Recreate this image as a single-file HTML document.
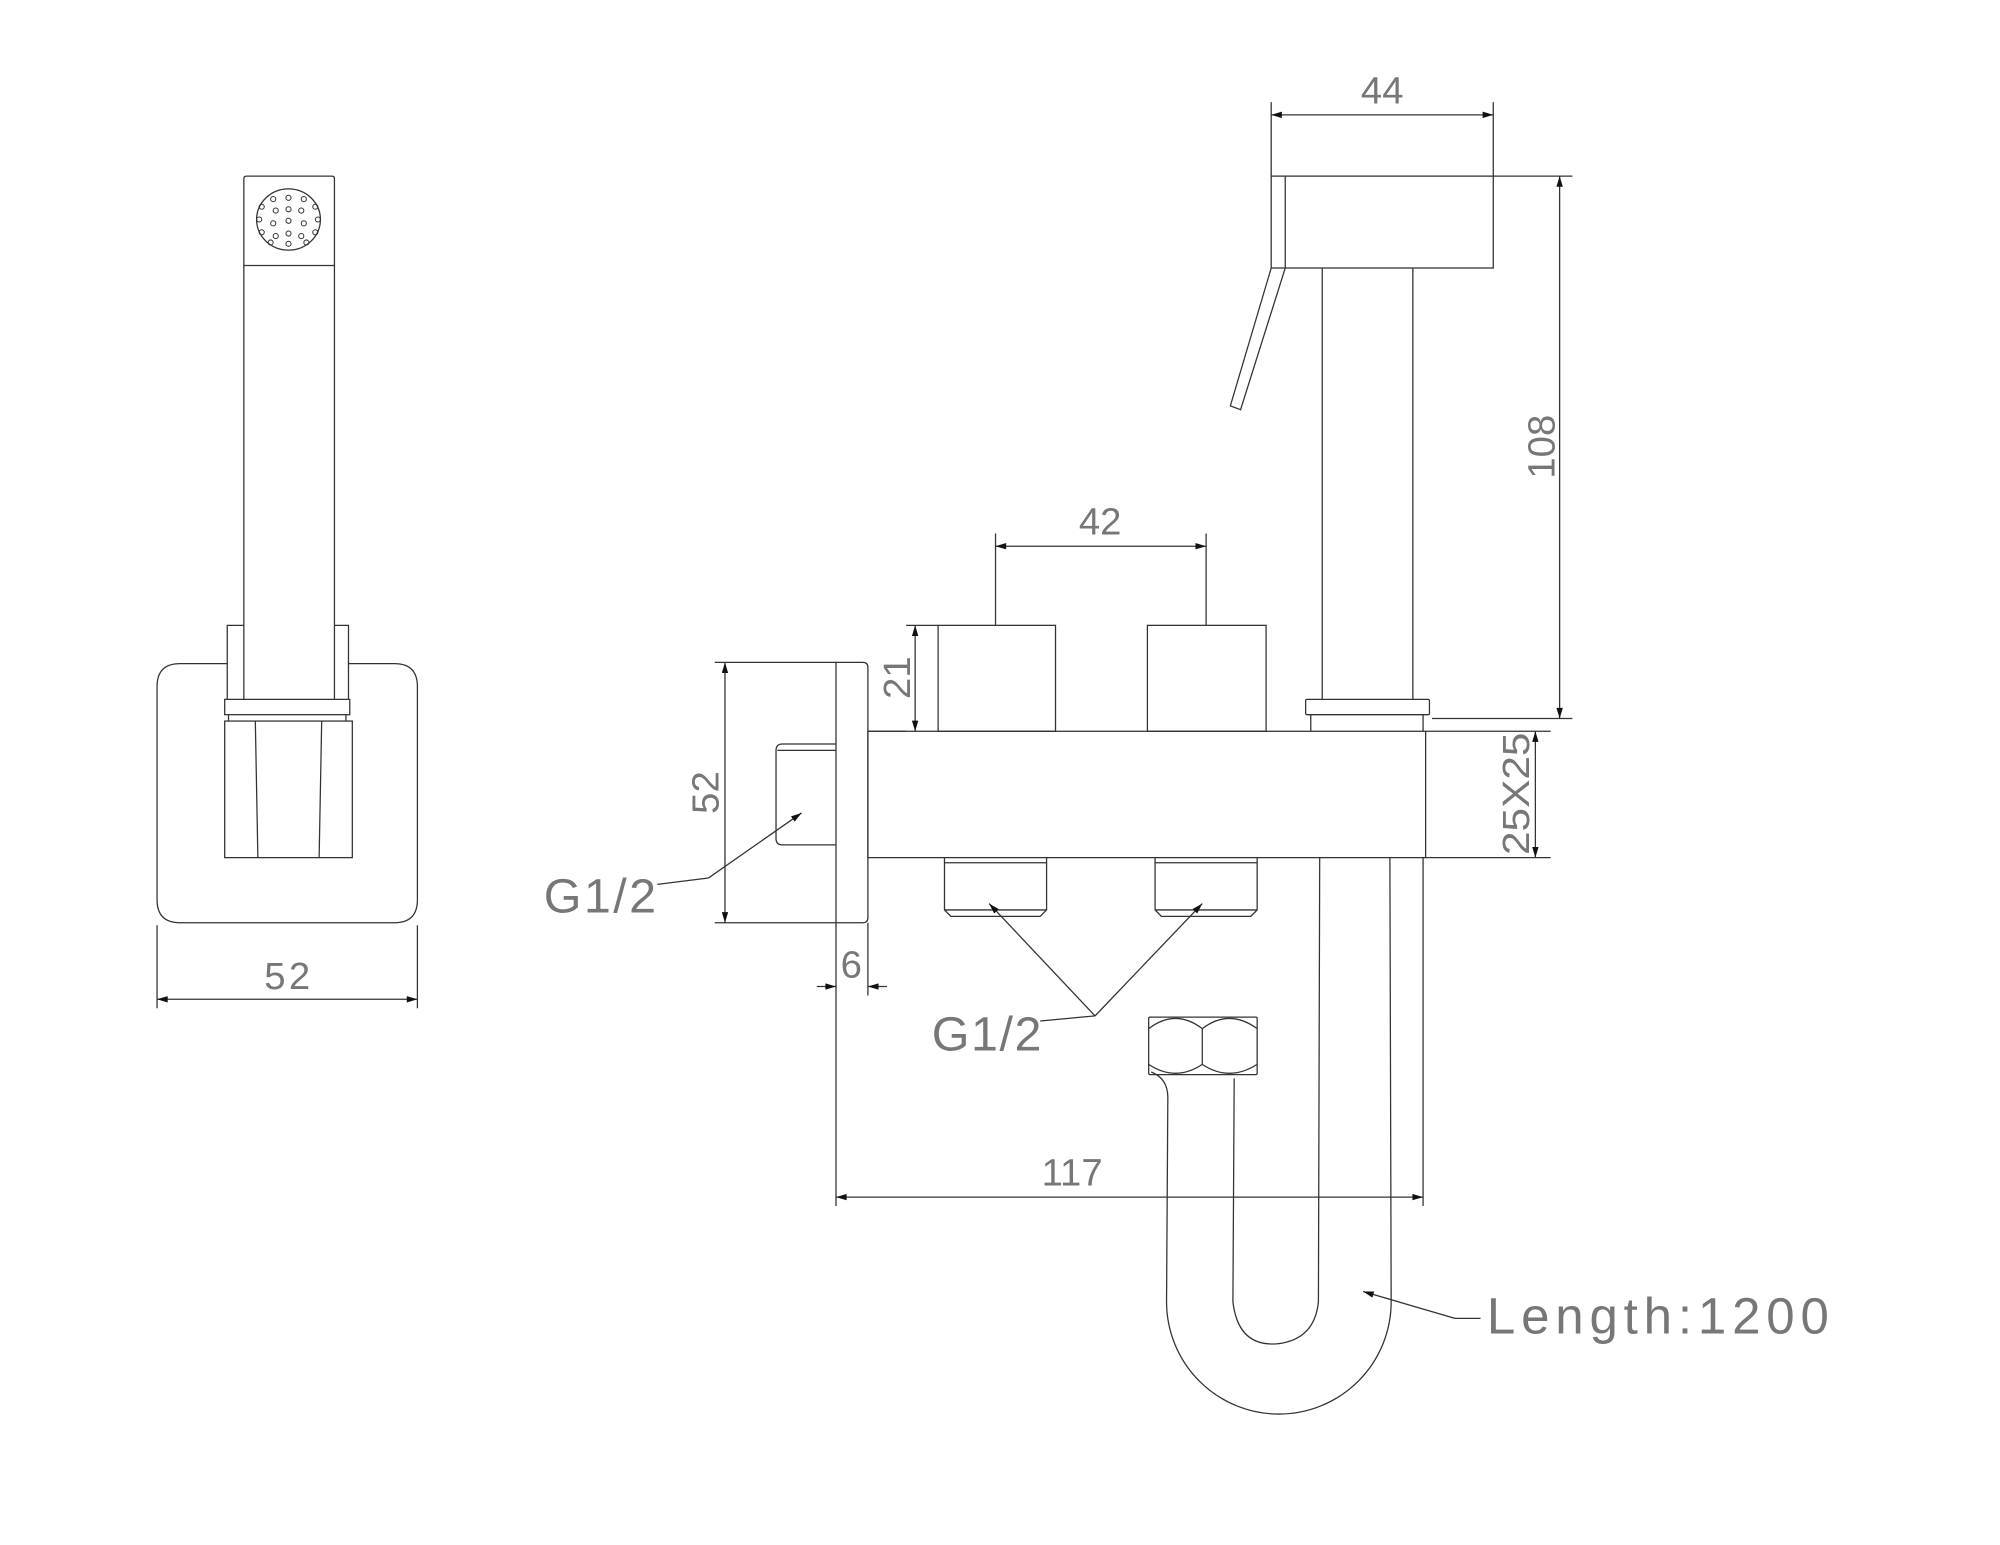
<!DOCTYPE html>
<html><head><style>html,body{margin:0;padding:0;background:#fff}svg{display:block}</style></head>
<body>
<svg width="2000" height="1545" viewBox="0 0 1567 1210.6" xmlns="http://www.w3.org/2000/svg">
<defs>
<marker id="a" viewBox="0 0 10 6" refX="10" refY="3" markerWidth="12" markerHeight="5" orient="auto-start-reverse" markerUnits="userSpaceOnUse"><path d="M0,0L10,3L0,6z" fill="#111"/></marker>
</defs>
<g fill="none" stroke="#333" stroke-width="1">
<!-- LEFT VIEW -->
<path d="M191,208 V140 Q191,138 193,138 H260 Q262,138 262,140 V208 Z"/>
<ellipse cx="226" cy="172" rx="25" ry="24"/>
<g stroke-width="0.8">
<circle cx="214" cy="156" r="2"/><circle cx="226" cy="155" r="2"/><circle cx="238" cy="156" r="2"/>
<circle cx="205" cy="162" r="2"/><circle cx="216" cy="165" r="2"/><circle cx="226" cy="164" r="2"/><circle cx="236" cy="165" r="2"/><circle cx="247" cy="162" r="2"/>
<circle cx="203" cy="172" r="2"/><circle cx="214" cy="175" r="2"/><circle cx="226" cy="173" r="2"/><circle cx="238" cy="175" r="2"/><circle cx="249" cy="172" r="2"/>
<circle cx="205" cy="182" r="2"/><circle cx="216" cy="185" r="2"/><circle cx="226" cy="183" r="2"/><circle cx="236" cy="185" r="2"/><circle cx="247" cy="182" r="2"/>
<circle cx="212" cy="190" r="2"/><circle cx="226" cy="191" r="2"/><circle cx="240" cy="190" r="2"/>
</g>
<path d="M191,208 V548 M262,208 V548"/>
<path d="M191,490 H178 V548 M262,490 H273 V548"/>
<rect x="176" y="548" width="98" height="12"/>
<path d="M179,560 V565 M271,560 V565"/>
<rect x="176" y="565" width="100" height="107"/>
<path d="M200,565 L202,672 M252,565 L250,672"/>
<path d="M178,520 H141 Q123,520 123,538 V705 Q123,723 141,723 H309 Q327,723 327,705 V538 Q327,520 309,520 H273"/>
<path d="M123,725 V790 M327,725 V790"/>
<line x1="123" y1="783" x2="327" y2="783" marker-start="url(#a)" marker-end="url(#a)"/>

<!-- RIGHT VIEW -->
<path d="M655,519 H676 Q680,519 680,523 V719 Q680,723 676,723 H655 Z"/>
<path d="M655,583 H613 Q608,583 608,588 V657 Q608,662 613,662 H655 M609,588 H655"/>
<rect x="680" y="573" width="437" height="99"/>
<rect x="735" y="490" width="92" height="83"/>
<rect x="899" y="490" width="93" height="83"/>
<path d="M740,672 V676 H820 V672 M740,676 V713 L745,718 H815 L820,713 V676 M740,713 H820"/>
<path d="M905,672 V676 H985 V672 M905,676 V713 L910,718 H980 L985,713 V676 M905,713 H985"/>
<!-- head -->
<rect x="996" y="138" width="174" height="72"/>
<path d="M1007,138 V210"/>
<path d="M996,210 L964,318 L972,321 L1007,210"/>
<path d="M1036,210 V548 M1107,210 V548"/>
<rect x="1023" y="548" width="97" height="12" rx="1"/>
<path d="M1027,560 V573 M1115,560 V573"/>
<!-- hose -->
<path d="M902,840 Q915,845 915,860 L914,1020 A88,88 0 0 0 1090,1020 L1089,672"/>
<path d="M967,845 L966,1020 Q970,1055 1000,1053 Q1030,1050 1033,1020 L1034,672"/>
<rect x="900" y="797" width="85" height="45" rx="1"/>
<path d="M900,806 Q921,790 942,806 Q963,790 985,806 M900,834 Q921,848 942,834 Q963,848 985,834 M942,806 V834"/>
<!-- dims -->
<path d="M996,80 V138 M1170,80 V138"/>
<line x1="996" y1="90" x2="1170" y2="90" marker-start="url(#a)" marker-end="url(#a)"/>
<path d="M1170,138 H1232 M1122,563 H1232"/>
<line x1="1222" y1="138" x2="1222" y2="563" marker-start="url(#a)" marker-end="url(#a)"/>
<path d="M1117,573 H1215 M1117,672 H1215"/>
<line x1="1203" y1="573" x2="1203" y2="672" marker-start="url(#a)" marker-end="url(#a)"/>
<path d="M780,418 V490 M945,418 V490"/>
<line x1="780" y1="428" x2="945" y2="428" marker-start="url(#a)" marker-end="url(#a)"/>
<path d="M710,490 H735 M710,573 H680"/>
<line x1="717" y1="490" x2="717" y2="573" marker-start="url(#a)" marker-end="url(#a)"/>
<path d="M560,519 H655 M560,723 H655"/>
<line x1="568" y1="519" x2="568" y2="723" marker-start="url(#a)" marker-end="url(#a)"/>
<path d="M655,723 V945 M680,723 V780 M1115,672 V945"/>
<line x1="640" y1="773" x2="655" y2="773" marker-end="url(#a)"/>
<line x1="695" y1="773" x2="680" y2="773" marker-end="url(#a)"/>
<line x1="655" y1="938" x2="1115" y2="938" marker-start="url(#a)" marker-end="url(#a)"/>
<!-- leaders -->
<path d="M515,693 L555,688"/>
<line x1="555" y1="688" x2="628" y2="637" marker-end="url(#a)"/>
<path d="M815,800 L858,796"/>
<line x1="858" y1="796" x2="775" y2="708" marker-end="url(#a)"/>
<line x1="858" y1="796" x2="942" y2="708" marker-end="url(#a)"/>
<path d="M1160,1033 H1140"/>
<line x1="1140" y1="1033" x2="1068" y2="1012" marker-end="url(#a)"/>
</g>
<g font-family="Liberation Sans, sans-serif" fill="#777" font-size="30">
<text x="225" y="775" text-anchor="middle" textLength="36">52</text>
<text x="1083" y="81" text-anchor="middle">44</text>
<text x="862" y="419" text-anchor="middle">42</text>
<text x="840" y="929" text-anchor="middle">117</text>
<text x="667" y="766" text-anchor="middle">6</text>
<text transform="translate(713,531) rotate(-90)" text-anchor="middle">21</text>
<text transform="translate(563,621) rotate(-90)" text-anchor="middle">52</text>
<text transform="translate(1218,350) rotate(-90)" text-anchor="middle">108</text>
<text transform="translate(1198,622) rotate(-90)" text-anchor="middle" textLength="96" lengthAdjust="spacingAndGlyphs">25X25</text>
<text x="426" y="715" font-size="38" textLength="88" lengthAdjust="spacing">G1/2</text>
<text x="730" y="823" font-size="38" textLength="86" lengthAdjust="spacing">G1/2</text>
<text x="1165" y="1045" font-size="40" textLength="268" lengthAdjust="spacing">Length:1200</text>
</g>
</svg>
</body></html>
